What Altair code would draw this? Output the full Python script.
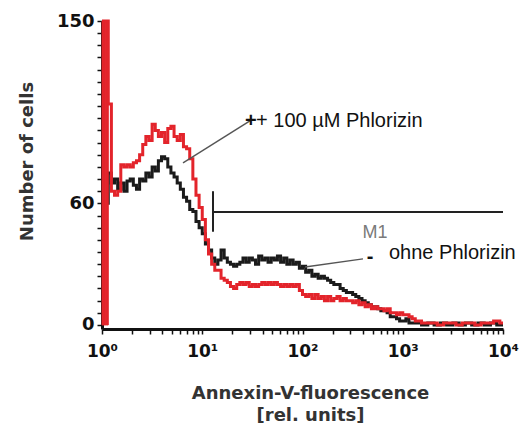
import altair as alt
import pandas as pd

# ---------------- data ----------------
# histogram channels: 256 channels over 4 decades (fluorescence = 10 ** (channel / 64))
black_ch = [3, 4,
            6, 8, 10, 12, 14, 16, 18, 20, 22, 24,
            26, 28, 30, 32, 34, 36, 38, 40, 42, 44,
            46, 48, 50, 52, 54, 56, 58, 60, 62, 64,
            66, 68, 70, 72, 74, 76, 78, 80, 82, 84,
            86, 88, 90, 92, 94, 96, 98, 100, 102, 104,
            106, 108, 110, 112, 114, 116, 118, 120, 122, 124,
            126, 128, 130, 132, 134, 136, 138, 140, 142, 144,
            146, 148, 150, 152, 154, 156, 158, 160, 162, 164,
            166, 168, 170, 172, 174, 176, 178, 180, 182, 184,
            186, 188, 190, 192, 194, 196, 198, 200,
            204, 208, 212, 216, 220, 224, 228, 232, 236, 240, 244, 248, 252, 256]
black_counts = [60, 75,
                70, 72, 67, 70, 66, 71, 72, 69, 67, 72,
                71, 75, 73, 78, 76, 81, 83, 82, 78, 75,
                73, 70, 67, 63, 61, 57, 56, 51, 48, 45,
                40, 37, 33, 30, 32, 37, 33, 31, 30, 29,
                30, 31, 33, 31, 33, 32, 30, 34, 32, 33,
                31, 33, 32, 34, 31, 33, 30, 32, 30, 31,
                28, 29, 26, 27, 24, 25, 23, 24, 23, 22,
                21, 20, 20, 18, 17, 16, 16, 15, 14, 13,
                12, 11, 10, 9, 9, 8, 7, 7, 6, 4,
                4, 3, 2, 2, 3, 1, 1, 1,
                0, 1, 0, 1, 0, 1, 0, 1, 0, 1, 0, 1, 0, 0]

red_ch = [0, 1, 2, 3, 4,
          6, 8, 10, 12, 14, 16, 18, 20, 22, 24,
          26, 28, 30, 32, 34, 36, 38, 40, 42, 44,
          46, 48, 50, 52, 54, 56, 58, 60, 62, 64,
          66, 68, 70, 72, 74, 76, 78, 80, 82, 84,
          86, 88, 90, 92, 94, 96, 98, 100, 102, 104,
          106, 108, 110, 112, 114, 116, 118, 120, 122, 124,
          126, 128, 130, 132, 134, 136, 138, 140, 142, 144,
          146, 148, 150, 152, 154, 156, 158, 160, 162, 164,
          166, 168, 170, 172, 174, 176, 178, 180, 182, 184,
          186, 188, 190, 192, 194, 196, 198, 200, 202, 204,
          206,
          210, 214, 218, 222, 226, 230, 234, 238, 242, 246, 250, 254, 256]
red_counts = [150, 150, 150, 150, 109,
              66, 64, 66, 79, 78, 79, 78, 80, 81, 84,
              89, 93, 91, 99, 96, 93, 95, 90, 97, 98,
              93, 91, 94, 88, 87, 82, 72, 64, 58, 52,
              42, 35, 30, 27, 27, 23, 22, 21, 19, 18,
              20, 21, 20, 21, 19, 20, 19, 20, 21, 20,
              21, 20, 21, 20, 19, 20, 19, 20, 19, 20,
              17, 15, 14, 15, 13, 15, 13, 14, 12, 14,
              12, 13, 14, 12, 13, 12, 12, 11, 12, 10,
              11, 9, 10, 8, 9, 8, 8, 7, 8, 6,
              6, 5, 6, 5, 5, 4, 3, 2, 2, 1,
              1,
              1, 0, 1, 1, 0, 1, 1, 0, 1, 1, 2, 1, 1]
red_spike_channels = 4   # the first channels form the solid spike at the left edge

# axis ticks / labels
x_tick_values = [1, 2, 3, 4, 5, 6, 7, 8, 9,
                 10, 20, 30, 40, 50, 60, 70, 80, 90,
                 100, 200, 300, 400, 500, 600, 700, 800, 900,
                 1000, 2000, 3000, 4000, 5000, 6000, 7000, 8000, 9000, 10000]
x_decades = [1, 10, 100, 1000, 10000]
x_decade_labels = ["10⁰", "10¹", "10²", "10³", "10⁴"]
y_tick_values = [0, 6, 12, 18, 24, 30, 36, 42, 48, 54, 60, 66, 72, 78, 84, 90,
                 96, 102, 108, 114, 120, 126, 132, 138, 144, 150]
y_label_values = [0, 60, 150]

# M1 marker
m1_x = [12.8]
m1_x_end = [10000]
m1_y = [55.8]
m1_y_low = [46]
m1_y_high = [66]
m1_label_x = [529]
m1_label_y = [45.4]

# annotation leader lines
lead_x1 = [6.43, 106]
lead_y1 = [80, 28.6]
lead_x2 = [29.9, 401]
lead_y2 = [100.7, 32.6]

# annotation texts
sym_text = ["+", "-"]
sym_x = [30.5, 471]
sym_y = [100.7, 33.6]
ann_text = ["+ 100 µM Phlorizin", "ohne Phlorizin"]
ann_x = [34.4, 729]
ann_y = [100.7, 35.5]

# ---------------- tables ----------------
black_df = pd.DataFrame({"x": [10 ** (c / 64) for c in black_ch], "y": black_counts,
                         "i": list(range(len(black_ch)))})
red_df = pd.DataFrame({"x": [10 ** (c / 64) for c in red_ch], "y": red_counts,
                       "i": list(range(len(red_ch)))})
spike_df = pd.DataFrame({
    "x": [10 ** (c / 64) for c in red_ch[:red_spike_channels]],
    "x2": [10 ** (c / 64) for c in red_ch[1:red_spike_channels + 1]],
    "y": [0] * red_spike_channels,
    "y2": red_counts[:red_spike_channels],
})

x_scale = alt.Scale(type="log", domain=[1, 10000], nice=False)
y_scale = alt.Scale(domain=[-2, 150], nice=False, zero=False)

label_map = " : ".join(
    f"datum.value == {v} ? '{l}'" for v, l in zip(x_decades, x_decade_labels)
) + " : ''"

x_axis = alt.Axis(
    values=x_tick_values,
    labelExpr=label_map,
    title=["Annexin-V-fluorescence", "[rel. units]"],
    titleFont="DejaVu Sans", titleFontWeight="bold", titleFontSize=18,
    titleColor="#333333", titleLineHeight=22, titleBaseline="top",
    titleX=208, titleY=55,
    labelFont="DejaVu Sans", labelFontWeight="bold", labelFontSize=17,
    labelColor="#111111", labelPadding=9, labelFlush=False, labelOverlap=False,
    tickSize=5, tickWidth=1.5, tickColor="#111111",
    domainWidth=3, domainColor="#111111", grid=False,
)
y_axis = alt.Axis(
    values=y_tick_values,
    labelExpr=f"indexof({y_label_values}, datum.value) >= 0 ? datum.label : ''",
    title="Number of cells",
    titleFont="DejaVu Sans", titleFontWeight="bold", titleFontSize=18,
    titleColor="#333333", titleX=-66, titleY=140,
    labelFont="DejaVu Sans", labelFontWeight="bold", labelFontSize=18,
    labelColor="#111111", labelPadding=3, labelOverlap=False,
    tickSize=5, tickWidth=1.5, tickColor="#111111",
    domainWidth=3, domainColor="#111111", grid=False,
)

X = alt.X("x:Q", scale=x_scale, axis=x_axis)
Y = alt.Y("y:Q", scale=y_scale, axis=y_axis)

black_line = alt.Chart(black_df).mark_line(
    interpolate="step-after", color="#1b1b1b", strokeWidth=3
).encode(x=X, y=Y, order="i:Q")

red_spike = alt.Chart(spike_df).mark_rect(
    color="#e3242b", opacity=1, stroke="#e3242b", strokeWidth=1
).encode(x=X, x2="x2:Q", y=Y, y2="y2:Q")

red_line = alt.Chart(red_df).mark_line(
    interpolate="step-after", color="#e3242b", strokeWidth=3
).encode(x=X, y=Y, order="i:Q")

m1_vert = alt.Chart(pd.DataFrame({"x": m1_x, "y": m1_y_low, "y2": m1_y_high})).mark_rule(
    color="#222222", strokeWidth=2
).encode(x=X, y=Y, y2="y2:Q")

m1_horiz = alt.Chart(pd.DataFrame({"x": m1_x, "x2": m1_x_end, "y": m1_y})).mark_rule(
    color="#222222", strokeWidth=2
).encode(x=X, x2="x2:Q", y=Y)

m1_text = alt.Chart(pd.DataFrame({"x": m1_label_x, "y": m1_label_y, "t": ["M1"]})).mark_text(
    font="Liberation Sans", fontSize=18, color="#7a7a7a", align="center", baseline="middle"
).encode(x=X, y=Y, text="t:N")

leaders = alt.Chart(pd.DataFrame({"x": lead_x1, "y": lead_y1, "x2": lead_x2, "y2": lead_y2})).mark_rule(
    color="#555555", strokeWidth=1.4
).encode(x=X, y=Y, x2="x2:Q", y2="y2:Q")

symbols = alt.Chart(pd.DataFrame({"x": sym_x, "y": sym_y, "t": sym_text})).mark_text(
    font="Liberation Sans", fontSize=20, fontWeight="bold", color="#111111",
    align="center", baseline="middle"
).encode(x=X, y=Y, text="t:N")

labels = alt.Chart(pd.DataFrame({"x": ann_x, "y": ann_y, "t": ann_text})).mark_text(
    font="Liberation Sans", fontSize=20, color="#111111", align="left", baseline="middle"
).encode(x=X, y=Y, text="t:N")

chart = alt.layer(
    black_line, red_spike, red_line, m1_vert, m1_horiz, m1_text, leaders, symbols, labels
).properties(
    width=401, height=308,
    padding={"left": 102, "top": 21, "right": 20, "bottom": 103},
    autosize=alt.AutoSizeParams(type="none"),
    background="white",
).configure_view(stroke=None)

chart.save("out.html", embed_options={"renderer": "svg", "actions": False})
